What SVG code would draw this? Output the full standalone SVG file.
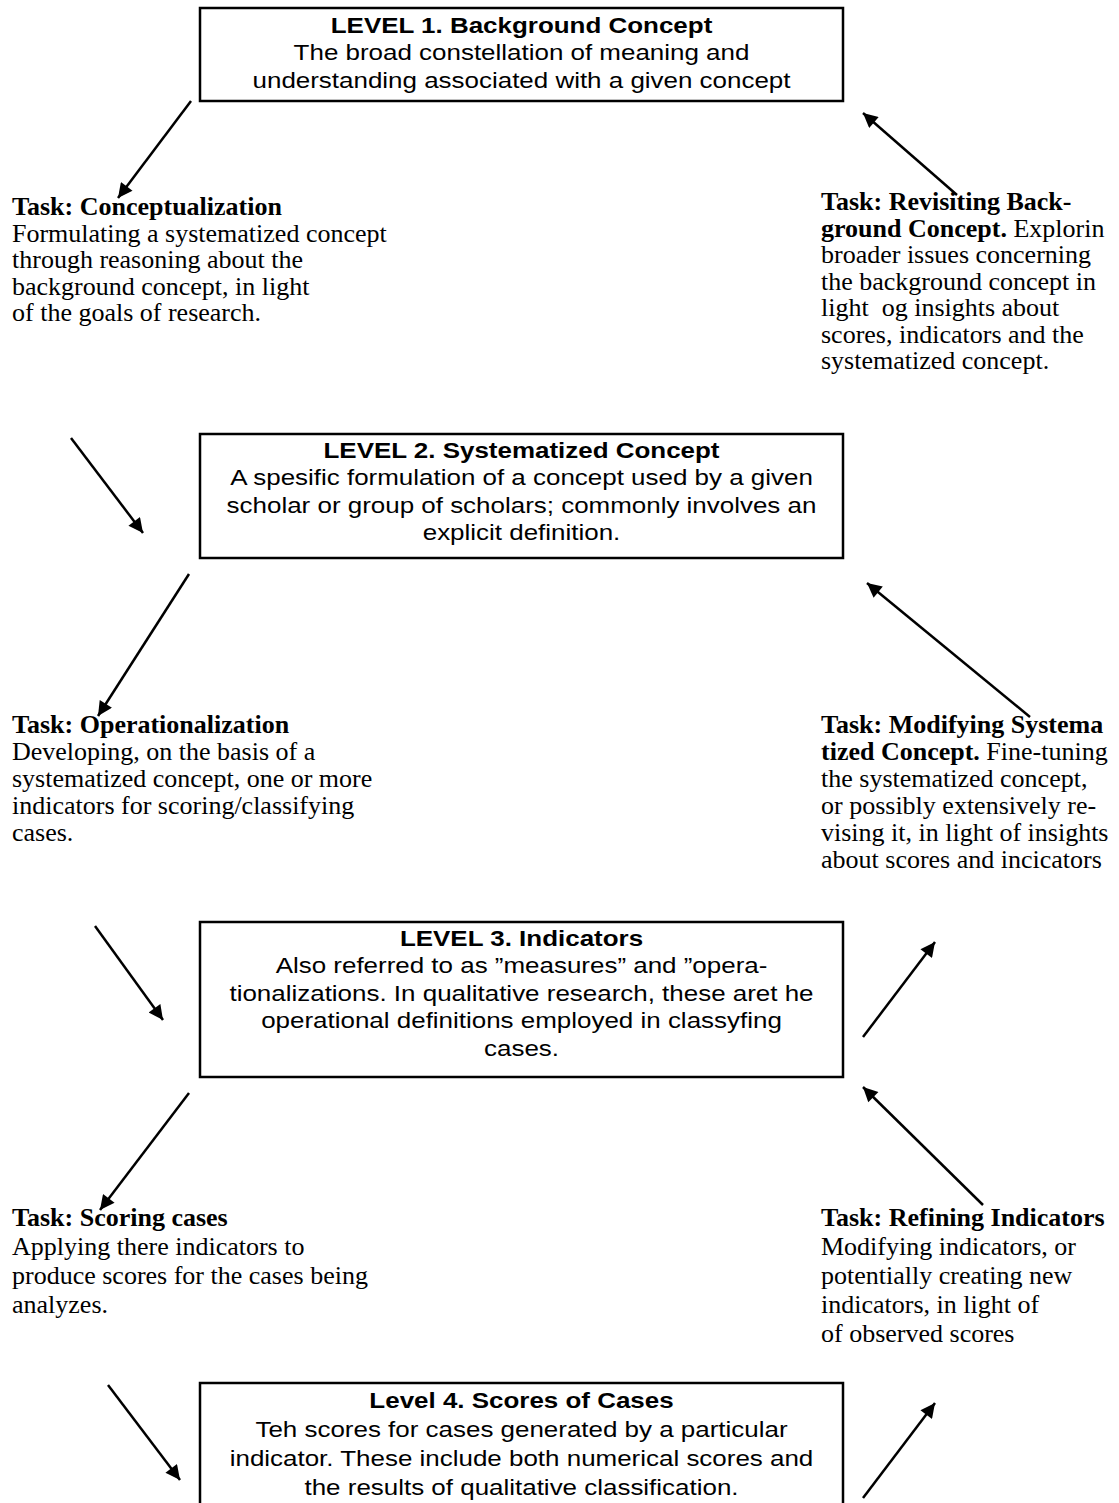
<svg xmlns="http://www.w3.org/2000/svg" width="1119" height="1503" viewBox="0 0 1119 1503">
<style>
.box{fill:#fff;stroke:#000;stroke-width:2.5}
.bt{font-family:"Liberation Sans",Arial,sans-serif;font-size:22px;text-anchor:middle;fill:#000}
.bh{font-weight:bold}
.tx{font-family:"Liberation Serif","Times New Roman",serif;font-size:26px;fill:#000}
.b{font-weight:bold}
.ar{stroke:#000;stroke-width:2.5;fill:none;marker-end:url(#ah)}
</style>
<defs>
<marker id="ah" viewBox="0 0 10 10" refX="10" refY="5" markerWidth="7.2" markerHeight="5.8" markerUnits="strokeWidth" orient="auto">
<path d="M0,0 L10,5 L0,10 z" fill="#000"/>
</marker>
</defs>
<rect width="1119" height="1503" fill="#fff"/>
<g id="level1">
<rect class="box" x="200" y="8" width="643" height="93"/>
<g transform="translate(521.5,0) scale(1.18,1)">
<text class="bt bh" x="0" y="33">LEVEL 1. Background Concept</text>
<text class="bt" x="0" y="60.5">The broad constellation of meaning and</text>
<text class="bt" x="0" y="88">understanding associated with a given concept</text>
</g>
</g>
<g id="level2">
<rect class="box" x="200" y="434" width="643" height="124"/>
<g transform="translate(521.5,0) scale(1.18,1)">
<text class="bt bh" x="0" y="458">LEVEL 2. Systematized Concept</text>
<text class="bt" x="0" y="485.5">A spesific formulation of a concept used by a given</text>
<text class="bt" x="0" y="513">scholar or group of scholars; commonly involves an</text>
<text class="bt" x="0" y="540.5">explicit definition.</text>
</g>
</g>
<g id="level3">
<rect class="box" x="200" y="922" width="643" height="155"/>
<g transform="translate(521.5,0) scale(1.18,1)">
<text class="bt bh" x="0" y="946">LEVEL 3. Indicators</text>
<text class="bt" x="0" y="973.5">Also referred to as ”measures” and ”opera-</text>
<text class="bt" x="0" y="1001">tionalizations. In qualitative research, these aret he</text>
<text class="bt" x="0" y="1028.5">operational definitions employed in classyfing</text>
<text class="bt" x="0" y="1056">cases.</text>
</g>
</g>
<g id="level4">
<rect class="box" x="200" y="1383" width="643" height="140"/>
<g transform="translate(521.5,0) scale(1.18,1)">
<text class="bt bh" x="0" y="1408">Level 4. Scores of Cases</text>
<text class="bt" x="0" y="1437">Teh scores for cases generated by a particular</text>
<text class="bt" x="0" y="1466">indicator. These include both numerical scores and</text>
<text class="bt" x="0" y="1495">the results of qualitative classification.</text>
</g>
</g>
<g id="task-conceptualization">
<text class="tx" x="12" y="215"><tspan class="b">Task: Conceptualization</tspan></text>
<text class="tx" x="12" y="241.5">Formulating a systematized concept</text>
<text class="tx" x="12" y="268">through reasoning about the</text>
<text class="tx" x="12" y="294.5">background concept, in light</text>
<text class="tx" x="12" y="321">of the goals of research.</text>
</g>
<g id="task-revisiting">
<text class="tx" x="821" y="210"><tspan class="b">Task: Revisiting Back-</tspan></text>
<text class="tx" x="821" y="236.5"><tspan class="b">ground Concept.</tspan> Explorin</text>
<text class="tx" x="821" y="263">broader issues concerning</text>
<text class="tx" x="821" y="289.5">the background concept in</text>
<text class="tx" x="821" y="316" xml:space="preserve">light  og insights about</text>
<text class="tx" x="821" y="342.5">scores, indicators and the</text>
<text class="tx" x="821" y="369">systematized concept.</text>
</g>
<g id="task-operationalization">
<text class="tx" x="12" y="733"><tspan class="b">Task: Operationalization</tspan></text>
<text class="tx" x="12" y="760">Developing, on the basis of a</text>
<text class="tx" x="12" y="787">systematized concept, one or more</text>
<text class="tx" x="12" y="814">indicators for scoring/classifying</text>
<text class="tx" x="12" y="841">cases.</text>
</g>
<g id="task-modifying">
<text class="tx" x="821" y="733"><tspan class="b">Task: Modifying Systema</tspan></text>
<text class="tx" x="821" y="760"><tspan class="b">tized Concept.</tspan> Fine-tuning</text>
<text class="tx" x="821" y="787">the systematized concept,</text>
<text class="tx" x="821" y="814">or possibly extensively re-</text>
<text class="tx" x="821" y="841">vising it, in light of insights</text>
<text class="tx" x="821" y="868">about scores and incicators</text>
</g>
<g id="task-scoring">
<text class="tx" x="12" y="1226"><tspan class="b">Task: Scoring cases</tspan></text>
<text class="tx" x="12" y="1255">Applying there indicators to</text>
<text class="tx" x="12" y="1284">produce scores for the cases being</text>
<text class="tx" x="12" y="1313">analyzes.</text>
</g>
<g id="task-refining">
<text class="tx" x="821" y="1226"><tspan class="b">Task: Refining Indicators</tspan></text>
<text class="tx" x="821" y="1255">Modifying indicators, or</text>
<text class="tx" x="821" y="1284">potentially creating new</text>
<text class="tx" x="821" y="1313">indicators, in light of</text>
<text class="tx" x="821" y="1342">of observed scores</text>
</g>
<g id="connectors">
<line class="ar" x1="191" y1="101" x2="118" y2="198"/>
<line class="ar" x1="957" y1="195" x2="863" y2="113"/>
<line class="ar" x1="71" y1="438" x2="143" y2="533"/>
<line class="ar" x1="189" y1="574" x2="98" y2="716"/>
<line class="ar" x1="1030" y1="717" x2="867" y2="583"/>
<line class="ar" x1="95" y1="926" x2="163" y2="1020"/>
<line class="ar" x1="863" y1="1037" x2="935" y2="942"/>
<line class="ar" x1="983" y1="1205" x2="863" y2="1087"/>
<line class="ar" x1="189" y1="1093" x2="100" y2="1210"/>
<line class="ar" x1="108" y1="1385" x2="180" y2="1480"/>
<line class="ar" x1="863" y1="1498" x2="935" y2="1403"/>
</g>
</svg>
